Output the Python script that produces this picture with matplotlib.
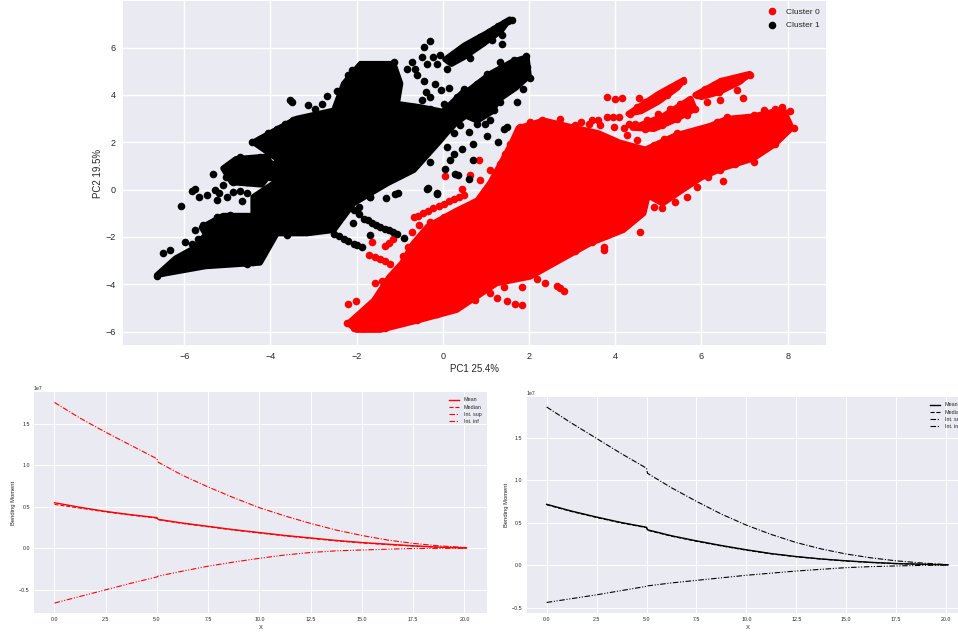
import matplotlib
matplotlib.use("Agg")
import matplotlib.pyplot as plt

plt.rcParams.update({
    "font.family": ["Liberation Sans", "DejaVu Sans"],
    "axes.facecolor": "#EAEAF2", "axes.edgecolor": "white", "grid.color": "white",
    "axes.labelcolor": "#262626", "text.color": "#262626",
    "xtick.color": "#262626", "ytick.color": "#262626",
    "xtick.major.size": 0, "ytick.major.size": 0,
    "axes.axisbelow": True,
})

# Outlines of the overplotted, unreadable dense regions
cluster0_dense = [
 [(-2.2,-5.66),(-1.6,-4.68),(-1.25,-3.7),(-.95,-3.1),(-.7,-2.3),(-.35,-1.55),(.3,-.9),(.8,-.45),(1.1,.3),
  (1.4,1.3),(1.6,2.0),(1.75,2.6),(2.34,2.93),(3.1,2.6),(3.6,2.4),(4.1,2.0),(4.7,1.7),(4.81,.11),(4.66,-1.01),
  (4.19,-1.72),(3.42,-2.28),(2.72,-2.99),(2.03,-3.69),(1.25,-3.97),(.32,-5.1),(-.68,-5.59),(-1.45,-5.94),(-2.0,-5.94)],
 [(4.7,1.7),(5.4,2.3),(6.2,2.7),(6.6,3.0),(7.2,3.1),(7.9,3.4),(8.1,2.6),(7.7,1.9),(7.2,1.3),(6.5,.9),(6.0,.5),(5.5,-.1),(5.1,-.6),(4.8,-.3)],
 [(4.3,3.2),(5.0,4.05),(5.6,4.65),(5.45,4.3),(5.0,3.7),(4.6,3.3)],
 [(4.4,2.6),(5.1,3.1),(5.75,3.85),(5.85,3.4),(5.4,2.95),(4.9,2.55)],
 [(5.85,4.0),(6.45,4.6),(7.12,4.9),(6.9,4.55),(6.4,4.1),(6.0,3.9)],
]
cluster1_dense = [
 [(-4.4,-1.1),(-4.4,-.31),(-3.9,.3),(-3.85,1.3),(-4.4,2.0),(-3.4,3.0),(-2.53,3.35),(-2.30,4.48),(-1.91,5.32),
  (-1.14,5.32),(-.98,4.48),(-1.06,3.63),(-.52,3.49),(0,3.3),(.48,4.15),(.8,4.2),(.75,3.4),(.3,2.8),(.05,2.3),
  (-.05,2.08),(-.67,.82),(-1.29,.25),(-2.07,-.59),(-2.53,-1.72),(-3.15,-1.86),(-3.85,-1.86),(-4.24,-3.1),(-5.5,-3.25),
  (-6.64,-3.62),(-6.2,-2.9),(-5.8,-2.5),(-5.5,-1.9),(-5.6,-1.6),(-5.1,-1.1)],
 [(-5.1,.9),(-4.8,1.3),(-4.1,1.4),(-3.9,.9),(-4.2,.2),(-4.9,.3)],
 [(.3,3.3),(.6,4.2),(1.1,4.9),(1.6,5.4),(1.95,5.6),(2.0,4.8),(1.7,4.3),(1.3,3.8),(1.15,3.3),(.8,2.9)],
 [(.05,5.5),(.5,6.1),(1.0,6.6),(1.55,7.2),(1.35,6.7),(.9,6.1),(.5,5.6),(.2,5.3)],
]

# Individually visible points
cluster0_points = [(-2.21,-4.85),(-2.01,-4.72),(-2.23,-5.66),(-2.07,-5.87),(-1.84,-5.87),(-1.57,-3.94),(-1.42,-3.86),(-1.48,-4.42),(-1.69,-5.03),
(-1.65,-2.21),(-1.72,-2.77),(-1.45,-2.92),(-1.22,-3.13),(-1.34,-2.39),(-1.15,-2.11),(-.93,-2.82),(-.91,-3.15),(-.76,-3.13),(-.95,-3.62),(-.66,-2.66),(-.53,-2.56),(-.72,-1.79),(-.8,-2.42),(-.37,-2.11),(-.45,-3.13),
(-1.58,-2.85),(-1.33,-3.02),(-1.25,-2.25),
(-.68,-1.18),(-.45,-1.01),(-.22,-.8),(.02,-.59),(.25,-.38),(.48,-.24),(-.56,-1.51),(-.29,-1.37),(.02,-1.15),(.32,-1.01),(.05,.58),(.63,.61),(.83,1.27),(.44,.04),(.87,.39),(1.1,.82),(1.33,1.1),(1.45,1.52),(1.56,1.94),(1.79,2.65),(2.03,2.86),(2.3,2.96),(2.72,3.0),(3.07,2.72),(3.46,2.93),(3.8,3.07),(4.08,3.07),(3.38,2.76),(3.65,2.72),(3.96,2.65),(4.31,2.79),(4.27,2.3),(3.8,1.94),(3.53,1.52),
(-.57,-1.1),(-.34,-.9),(-.1,-.7),(.14,-.48),(.37,-.3),(3.2,2.85),(3.6,2.95),(3.95,3.07),(4.2,2.6),(4.5,2.1),(4.9,1.9),
(3.82,3.92),(4.0,3.82),(4.15,3.89),(4.56,3.89),
(4.35,3.21),(4.5,3.49),(4.69,3.7),(4.89,3.85),(5.08,4.06),(5.27,4.31),(5.43,4.48),(5.57,4.58),(5.2,3.99),
(4.46,2.79),(4.73,2.93),(5.0,3.21),(5.27,3.42),(5.51,3.63),(5.72,3.8),(5.84,3.42),(5.66,3.14),(5.43,3.0),(5.08,2.72),(4.69,2.58),(5.35,3.35),
(5.89,3.99),(6.09,4.23),(6.28,4.41),(6.45,4.58),(6.67,4.48),(6.86,4.69),(7.01,4.79),(7.12,4.86),(6.13,3.7),(6.43,3.77),(6.82,4.2),(6.96,3.89),(6.4,4.13),
(8.14,2.61),(7.98,2.58),(7.87,3.49),(8.06,3.31),(7.71,3.42),(7.44,3.35),(7.21,3.14),(7.02,2.93),(6.78,2.72),(6.59,3.07),(6.36,2.86),(6.16,2.65),(7.67,2.93),(7.36,2.72),(7.75,2.44),(7.52,2.51),(7.71,1.94),(7.25,2.15),(6.98,2.08),(6.67,2.37),(6.43,2.23),(6.13,2.15),(5.89,2.01),(5.62,1.8),(5.43,2.37),(5.12,2.15),(5.27,1.8),(5.58,2.08),(7.4,1.66),(7.21,1.17),(6.98,1.38),(6.78,1.1),(6.59,1.66),(6.36,1.24),(6.13,1.1),(6.43,.82),(6.5,.35),(6.16,.54),(5.89,.11),(5.66,-.31),(5.39,-.52),(5.12,-.45),(5.27,-.03),(5.51,.32),(5.82,1.1),(5.58,.96),(5.27,1.1),(5.43,1.52),(5.12,.82),(4.96,.11),(4.89,-.73),(5.08,-.8),(4.58,-1.79),(5.97,1.66),(6.28,1.8),(6.74,1.8),(7.13,2.37),(4.93,1.59),
(3.73,-2.42),(3.73,-2.56),(3.07,-2.61),(3.46,-2.21),(3.8,-1.93),
(2.18,-3.76),(2.37,-3.97),(2.65,-4.08),(2.8,-4.3),(2.72,-4.18),(1.83,-4.11),(1.41,-4.11),(1.1,-4.39),(1.25,-4.58),(1.48,-4.72),(1.68,-4.82),(1.83,-4.89),(.75,-4.68),(.13,-5.1),(-.14,-5.24),(-.6,-5.52),(-1.34,-5.87)]

cluster1_points = [(-6.08,-.69),(-5.75,.04),(-5.83,-.06),(-5.65,-.31),(-5.33,.65),(-5.48,-.24),(-5.29,-.03),(-5.09,.18),(-5.25,-.45),(-4.86,-.1),(-4.55,-.14),
(-4.65,-.5),(-5.0,-.3),(-5.2,-.15),(-4.7,-.05),
(-5.02,.96),(-4.86,1.1),(-4.70,1.38),(-4.55,1.1),(-4.24,1.38),(-4.09,1.38),(-3.97,1.1),(-4.40,.82),(-4.78,.68),(-5.02,.54),(-4.16,.68),(-4.55,.32),(-4.24,.32),(-4.0,.54),(-4.86,.32),
(-4.43,2.01),(-4.24,2.15),(-4.05,2.37),(-3.85,2.58),(-3.66,2.79),(-3.47,2.96),(-3.54,3.77),(-3.5,3.72),
(-3.12,3.56),(-2.96,3.42),(-2.81,3.63),(-2.69,3.94),(-2.46,4.17),(-2.19,4.83),(-2.11,5.04),(-1.84,5.25),(-1.60,5.11),(-1.29,5.25),(-1.14,5.39),
(-.83,5.08),(-.71,5.39),(-.48,5.6),(-.43,6.03),(-.29,6.28),(-.23,5.6),(-.64,5.11),(-.60,4.83),(-.36,5.32),(-.13,5.32),(-.44,4.58),(-.19,4.45),(-.40,4.13),(-.29,3.92),(-.05,4.2),(.14,4.3),(-.48,3.77),(-.67,3.49),(-.98,3.49),(-.83,3.28),
(-.06,5.68),(.17,5.6),(.4,5.75),(.63,6.17),(.87,6.45),(1.18,6.8),(1.41,7.04),(1.6,7.15),(1.52,7.13),(1.29,6.92),(1.06,6.66),(.75,6.31),(.52,6.03),(.29,5.68),(.63,5.54),(.09,5.11),(1.38,6.52),(1.38,6.14),(1.14,6.31),(.94,6.24),(.44,5.89),
(.48,4.27),(.79,4.48),(1.02,4.9),(1.33,5.39),(1.64,5.46),(1.93,5.63),(1.95,5.18),(2.03,4.73),(1.72,4.48),(1.87,4.27),(1.48,4.62),(1.18,4.48),(1.41,4.2),(1.72,3.7),(1.33,3.7),(1.18,3.35),(1.1,2.93),(.94,3.92),(.71,3.77),(.32,3.92),(.02,3.63),(-.29,3.42),(1.48,2.65),(1.41,2.58),(.98,2.76),(.79,2.79),(.6,2.44),(.4,2.72),(.25,2.37),(1.02,2.25),(1.28,2.01),(.69,1.94),(.44,1.73),(.25,1.52),(.69,1.27),(.17,1.24),(.05,.89),(.29,.65),(.36,.61),(.6,.46),(-.37,.04),(-.14,-.14),(-1.03,-.14),(-1.1,-.2),(-1.32,-.34),(-1.69,-.31),(-.29,1.17),(.09,1.8),
(-2.07,-.87),(-1.95,-1.05),(-1.84,-1.23),(-1.64,-1.41),(-1.45,-1.58),(-1.26,-1.72),(-1.06,-1.86),(-.91,-2.03),(-1.16,-1.79),(-1.54,-1.51),(-1.74,-1.3),(-1.35,-1.65),
(-2.53,-1.86),(-2.3,-2.07),(-2.07,-2.28),(-1.88,-2.42),(-2.19,-2.17),(-2.42,-1.97),(-1.98,-2.35),(-2.09,-1.41),(-1.7,-1.93),(-1.95,-.73),(-1.68,-.31),(-.35,.07),(-.13,-.17),
(-6.49,-2.68),(-6.33,-2.56),(-5.98,-2.21),(-5.83,-2.28),(-5.67,-2.07),(-5.75,-1.72),(-5.56,-1.51),(-5.25,-1.15),(-4.94,-1.08),(-4.55,-3.13),(-4.40,-3.06),(-5.64,-3.2),(-6.18,-2.99),(-6.64,-3.66),(-6.49,-3.48),(-6.33,-3.34),(-5.40,-2.14),(-5.17,-1.86),(-4.16,-2.14),(-3.62,-1.93)]

x_values = [0, 1.25, 2.5, 3.75, 5, 5.05, 6.25, 7.5, 8.75, 10, 11.25, 12.5, 13.75, 15, 16.25, 17.5, 18.75, 20.1]

red_mean   = [.55, .495, .445, .405, .37, .35, .305, .265, .225, .19, .155, .125, .095, .07, .05, .03, .015, .005]
red_median = [.53, .485, .44, .40, .365, .345, .30, .26, .22, .185, .15, .12, .09, .065, .045, .028, .012, .004]
red_sup    = [1.76, 1.57, 1.40, 1.24, 1.08, 1.04, .88, .74, .61, .49, .39, .30, .22, .155, .10, .06, .03, .01]
red_inf    = [-.66, -.58, -.50, -.42, -.345, -.335, -.275, -.215, -.165, -.12, -.08, -.05, -.03, -.02, -.01, -.002, 0, 0]

black_mean   = [.715, .635, .565, .50, .445, .415, .345, .285, .23, .18, .135, .10, .072, .05, .032, .018, .01, .003]
black_median = [.71, .63, .56, .495, .44, .41, .34, .28, .225, .175, .132, .098, .07, .048, .03, .017, .009, .003]
black_sup    = [1.86, 1.67, 1.49, 1.31, 1.14, 1.08, .91, .75, .60, .47, .36, .265, .19, .13, .085, .05, .025, .005]
black_inf    = [-.44, -.395, -.35, -.30, -.25, -.245, -.21, -.18, -.15, -.12, -.095, -.07, -.05, -.03, -.018, -.01, -.004, 0]

W, H = 958, 632
fig = plt.figure(figsize=(W / 100, H / 100), dpi=100, facecolor="white")

def box(left, top, right, bottom):
    return [left / W, 1 - bottom / H, (right - left) / W, (bottom - top) / H]

# Top PCA panel
ax = fig.add_axes(box(123, 1, 826, 345))
for regions, pts, color, label in [(cluster0_dense, cluster0_points, "#FF0000", "Cluster 0"),
                                   (cluster1_dense, cluster1_points, "black", "Cluster 1")]:
    for region in regions:
        ax.fill(*zip(*region), color=color, lw=4, joinstyle="round", zorder=2)
    ax.scatter(*zip(*pts), s=30, color=color, label=label, linewidths=0, zorder=2)
ax.set_xlim(-7.42, 8.89)
ax.set_ylim(-6.57, 7.97)
ax.set_xticks([-6, -4, -2, 0, 2, 4, 6, 8])
ax.set_yticks([-6, -4, -2, 0, 2, 4, 6])
ax.grid(True, lw=1)
ax.tick_params(labelsize=6.5, pad=5)
ax.set_xlabel("PC1 25.4%", fontsize=7, labelpad=2)
ax.set_ylabel("PC2 19.5%", fontsize=7, labelpad=2)
ax.legend(loc="upper right", frameon=False, fontsize=6, borderaxespad=0.4, handletextpad=0.6, labelspacing=0.65)
for s in ax.spines.values():
    s.set_visible(False)

def bending(position, color, mean, median, sup, inf, ylim, yticks):
    a = fig.add_axes(position)
    a.plot(x_values, mean, color=color, lw=1, ls="-", label="Mean")
    a.plot(x_values, median, color=color, lw=0.8, ls="--", label="Median")
    a.plot(x_values, sup, color=color, lw=0.8, ls=(0, (5, 1.5, 1, 1.5)), label="Int. sup")
    a.plot(x_values, inf, color=color, lw=0.8, ls=(0, (5, 1.5, 1, 1.5, 1, 1.5)), label="Int. inf")
    a.set_xlim(-1, 21.1)
    a.set_ylim(*ylim)
    a.set_xticks([0, 2.5, 5, 7.5, 10, 12.5, 15, 17.5, 20])
    a.set_xticklabels(["0.0", "2.5", "5.0", "7.5", "10.0", "12.5", "15.0", "17.5", "20.0"])
    a.set_yticks(yticks)
    a.set_yticklabels([f"{t:.1f}".replace("-", "\u2212") for t in yticks])
    a.grid(True, lw=0.7)
    a.tick_params(labelsize=3.8, pad=3)
    a.set_xlabel("X", fontsize=4.2, labelpad=2)
    a.set_ylabel("Bending Moment", fontsize=4.2, labelpad=2)
    a.text(0, 1.005, "1e7", transform=a.transAxes, fontsize=3.8, va="bottom")
    a.legend(loc="upper right", frameon=False, fontsize=3.9, borderaxespad=0.6, handlelength=2,
             labelspacing=0.42, handletextpad=0.8)
    for s in a.spines.values():
        s.set_visible(False)
    return a

bending(box(34, 392, 487, 613), "#FF0000", red_mean, red_median, red_sup, red_inf,
        (-.78, 1.886), [-.5, 0, .5, 1.0, 1.5])
bending(box(526.7, 397, 968, 613), "black", black_mean, black_median, black_sup, black_inf,
        (-.564, 1.978), [-.5, 0, .5, 1.0, 1.5])

fig.savefig("out.png", dpi=100, facecolor="white")
